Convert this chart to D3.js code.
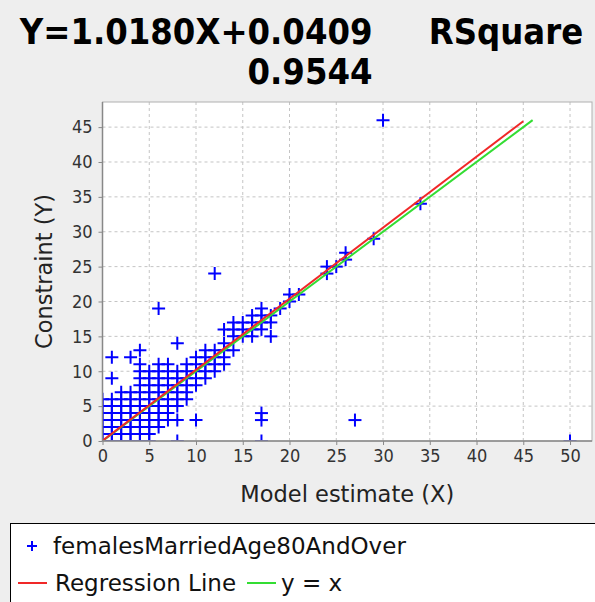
<!DOCTYPE html>
<html>
<head>
<meta charset="utf-8">
<script src="https://cdn.jsdelivr.net/npm/d3@7"></script>
<style>
  html, body { margin: 0; padding: 0; background: #eeeeee; }
  svg { display: block; }
</style>
</head>
<body>
<svg id="chart" width="595" height="602"></svg>
<script>
// ---------------- data ----------------
const titleLine1 = "Y=1.0180X+0.0409     RSquare";
const titleLine2 = "0.9544";
const xLabel = "Model estimate (X)";
const yLabel = "Constraint (Y)";
const seriesName = "femalesMarriedAge80AndOver";
const regressionName = "Regression Line";
const identityName = "y = x";

const slope = 1.0180;
const intercept = 0.0409;
const regressionXRange = [0, 45];
const identityRange = [0, 46];

const xTicks = [0, 5, 10, 15, 20, 25, 30, 35, 40, 45, 50];
const yTicks = [0, 5, 10, 15, 20, 25, 30, 35, 40, 45];

// Model estimate (X) and constraint (Y) pairs
const modelEstimate = [
  0,0,0,0,0,0,0,
  1,1,1,1,1,1,1,1,1,
  2,2,2,2,2,2,2,2,
  3,3,3,3,3,3,3,3,3,
  4,4,4,4,4,4,4,4,4,4,4,4,4,
  5,5,5,5,5,5,5,5,5,5,5,
  6,6,6,6,6,6,6,6,6,6,6,
  7,7,7,7,7,7,7,7,7,
  8,8,8,8,8,8,8,8,8,
  9,9,9,9,9,9,
  10,10,10,10,10,10,
  11,11,11,11,11,
  12,12,12,12,12,
  13,13,13,13,13,
  14,14,14,14,
  15,15,15,
  16,16,16,16,
  17,17,17,17,17,17,17,
  18,18,18,
  19,
  20,20,
  21,
  24,24,
  25,
  26,26,
  27,
  29,
  30,
  34,
  50
];
const constraint = [
  0,1,2,3,4,5,6,
  0,1,2,3,4,5,6,9,12,
  0,1,2,3,4,5,6,7,
  0,1,2,3,4,5,6,7,12,
  0,1,2,3,4,5,6,7,8,9,10,11,13,
  0,1,2,3,4,5,6,7,8,9,10,
  2,3,4,5,6,7,8,9,10,11,19,
  3,4,5,6,7,8,9,10,11,
  0,3,5,6,7,8,9,10,14,
  6,7,8,9,10,11,
  3,8,9,10,11,12,
  9,10,11,12,13,
  10,11,12,13,24,
  11,12,13,14,16,
  13,15,16,17,
  15,16,17,
  15,16,17,18,
  0,3,4,16,17,18,19,
  15,17,18,
  19,
  20,21,
  21,
  24,25,
  25,
  26,27,
  3,
  29,
  46,
  34,
  0
];

// ---------------- drawing ----------------
const svg = d3.select("#chart");
const W = 595, H = 602;
const plot = { left: 102.5, right: 592, top: 102, bottom: 441 };

svg.append("rect").attr("width", W).attr("height", H).attr("fill", "#eeeeee");

const x = d3.scaleLinear().domain([0, 52.35]).range([plot.left, plot.right]);
const y = d3.scaleLinear().domain([0, 48.6]).range([plot.bottom, plot.top]);

// Title
const titleFont = "'DejaVu Sans Condensed', 'DejaVu Sans', sans-serif";
svg.append("text")
  .attr("x", 301.5).attr("y", 44)
  .attr("text-anchor", "middle")
  .style("white-space", "pre")
  .attr("xml:space", "preserve")
  .attr("font-family", titleFont)
  .attr("font-stretch", "condensed")
  .attr("font-weight", "bold")
  .attr("font-size", 36)
  .attr("fill", "#000")
  .text(titleLine1);
svg.append("text")
  .attr("x", 310).attr("y", 84)
  .attr("text-anchor", "middle")
  .attr("font-family", titleFont)
  .attr("font-stretch", "condensed")
  .attr("font-weight", "bold")
  .attr("font-size", 36)
  .attr("fill", "#000")
  .text(titleLine2);

// Plot background
svg.append("rect")
  .attr("x", plot.left).attr("y", plot.top)
  .attr("width", plot.right - plot.left).attr("height", plot.bottom - plot.top)
  .attr("fill", "#ffffff");

// Grid lines
const grid = svg.append("g");
grid.selectAll("line.vg").data(xTicks.filter(d => d > 0)).enter().append("line")
  .attr("x1", d => x(d)).attr("x2", d => x(d))
  .attr("y1", plot.top).attr("y2", plot.bottom)
  .attr("stroke", "#c4c4c4").attr("stroke-width", 1).attr("stroke-dasharray", "3,3");
grid.selectAll("line.hg").data(yTicks.filter(d => d > 0)).enter().append("line")
  .attr("y1", d => y(d)).attr("y2", d => y(d))
  .attr("x1", plot.left).attr("x2", plot.right)
  .attr("stroke", "#c4c4c4").attr("stroke-width", 1).attr("stroke-dasharray", "3,3");

// Clip
svg.append("clipPath").attr("id", "clip").append("rect")
  .attr("x", plot.left).attr("y", plot.top)
  .attr("width", plot.right - plot.left).attr("height", plot.bottom - plot.top);

const pts = modelEstimate.map((v, i) => ({ x: v, y: constraint[i] }));
const arm = 6.5;
const ptsG = svg.append("g").attr("clip-path", "url(#clip)");
const cross = ptsG.selectAll("g.pt").data(pts).enter().append("g")
  .attr("transform", d => `translate(${x(d.x)},${y(d.y)})`);
cross.append("line").attr("x1", -arm).attr("x2", arm).attr("y1", 0).attr("y2", 0)
  .attr("stroke", "#0000ff").attr("stroke-width", 2);
cross.append("line").attr("y1", -arm).attr("y2", arm).attr("x1", 0).attr("x2", 0)
  .attr("stroke", "#0000ff").attr("stroke-width", 2);

// Lines
const lineG = svg.append("g").attr("clip-path", "url(#clip)");
lineG.append("line")
  .attr("x1", x(identityRange[0])).attr("y1", y(identityRange[0]))
  .attr("x2", x(identityRange[1])).attr("y2", y(identityRange[1]))
  .attr("stroke", "#33dd33").attr("stroke-width", 2);
lineG.append("line")
  .attr("x1", x(regressionXRange[0])).attr("y1", y(slope * regressionXRange[0] + intercept))
  .attr("x2", x(regressionXRange[1])).attr("y2", y(slope * regressionXRange[1] + intercept))
  .attr("stroke", "#f02828").attr("stroke-width", 2);

// Outline
svg.append("rect")
  .attr("x", plot.left).attr("y", plot.top)
  .attr("width", plot.right - plot.left).attr("height", plot.bottom - plot.top)
  .attr("fill", "none").attr("stroke", "#b0b0b0").attr("stroke-width", 1);

// Axes
const tickFont = "'DejaVu Sans Condensed', 'DejaVu Sans', sans-serif";
const xAxis = svg.append("g")
  .attr("transform", `translate(0,${plot.bottom})`)
  .call(d3.axisBottom(x).tickValues(xTicks).tickSize(4).tickPadding(4).tickFormat(d3.format("d")));
const yAxis = svg.append("g")
  .attr("transform", `translate(${plot.left},0)`)
  .call(d3.axisLeft(y).tickValues(yTicks).tickSize(4).tickPadding(6).tickFormat(d3.format("d")));
[xAxis, yAxis].forEach(a => {
  a.select(".domain").attr("stroke", "#888888").attr("stroke-width", 1.5);
  a.selectAll(".tick line").attr("stroke", "#888888").attr("stroke-width", 1);
  a.selectAll(".tick text")
    .attr("font-family", tickFont).attr("font-stretch", "condensed")
    .attr("font-size", 18).attr("fill", "#333333");
});
xAxis.select(".domain").attr("d", `M${plot.left},0H${plot.right}`);
yAxis.select(".domain").attr("d", `M0,${plot.bottom}V${plot.top}`);

// Axis labels
const labelFont = "'DejaVu Sans', sans-serif";
svg.append("text")
  .attr("x", (plot.left + plot.right) / 2).attr("y", 502)
  .attr("text-anchor", "middle")
  .attr("font-family", labelFont).attr("font-size", 22.5).attr("fill", "#222")
  .text(xLabel);
svg.append("text")
  .attr("transform", `translate(52,${(plot.top + plot.bottom) / 2}) rotate(-90)`)
  .attr("text-anchor", "middle")
  .attr("font-family", labelFont).attr("font-size", 22.5).attr("fill", "#222")
  .text(yLabel);

// Legend
svg.append("rect")
  .attr("x", 10.5).attr("y", 523.5).attr("width", 600).attr("height", 100)
  .attr("fill", "#ffffff").attr("stroke", "#000000").attr("stroke-width", 1);
const lg = svg.append("g");
lg.append("line").attr("x1", 27).attr("x2", 37).attr("y1", 546).attr("y2", 546)
  .attr("stroke", "#0000ff").attr("stroke-width", 2);
lg.append("line").attr("x1", 32).attr("x2", 32).attr("y1", 541).attr("y2", 551)
  .attr("stroke", "#0000ff").attr("stroke-width", 2);
lg.append("text").attr("x", 53).attr("y", 554)
  .attr("font-family", labelFont).attr("font-size", 23).attr("fill", "#111")
  .text(seriesName);
lg.append("line").attr("x1", 18).attr("x2", 47).attr("y1", 583).attr("y2", 583)
  .attr("stroke", "#f02828").attr("stroke-width", 2);
lg.append("text").attr("x", 55).attr("y", 591)
  .attr("font-family", labelFont).attr("font-size", 23).attr("fill", "#111")
  .text(regressionName);
lg.append("line").attr("x1", 247).attr("x2", 276).attr("y1", 583).attr("y2", 583)
  .attr("stroke", "#33dd33").attr("stroke-width", 2);
lg.append("text").attr("x", 281).attr("y", 591)
  .attr("font-family", labelFont).attr("font-size", 23).attr("fill", "#111")
  .style("white-space", "pre").attr("xml:space", "preserve")
  .text(identityName);
</script>
</body>
</html>
